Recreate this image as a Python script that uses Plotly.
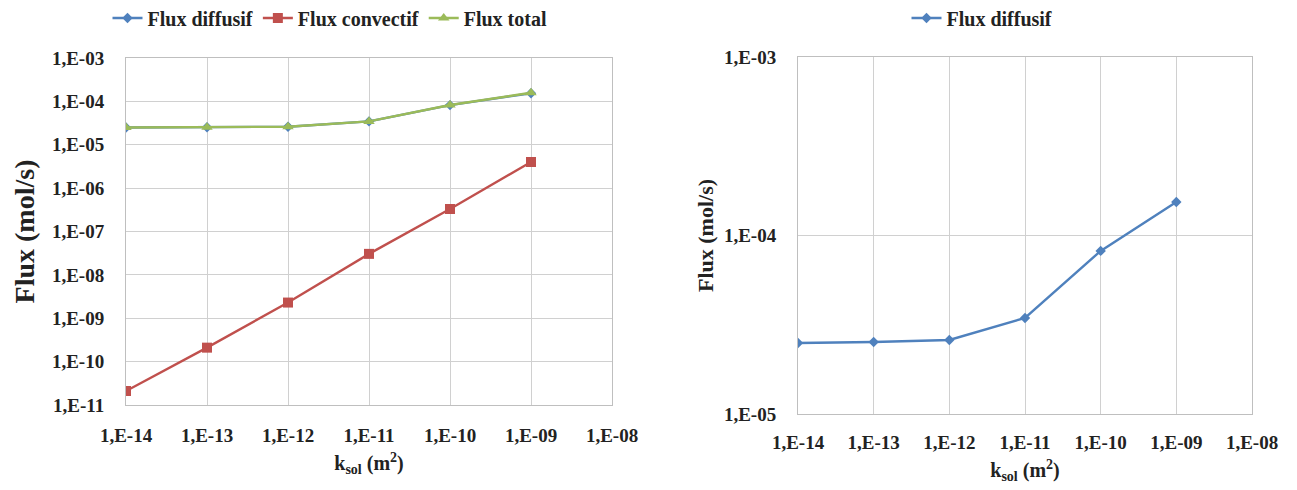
import plotly.graph_objects as go

k_sol = [1e-14, 1e-13, 1e-12, 1e-11, 1e-10, 1e-9]
flux_diffusif = [2.5e-5, 2.53e-5, 2.6e-5, 3.45e-5, 8.2e-5, 1.54e-4]
flux_convectif = [2.1e-11, 2.1e-10, 2.3e-9, 3.05e-8, 3.3e-7, 4.0e-6]
flux_total = [2.5e-5, 2.53e-5, 2.6e-5, 3.45e-5, 8.23e-5, 1.58e-4]

x_ticks = [1e-14, 1e-13, 1e-12, 1e-11, 1e-10, 1e-9, 1e-8]
x_labels = ["1,E-14", "1,E-13", "1,E-12", "1,E-11", "1,E-10", "1,E-09", "1,E-08"]
y_ticks_left = [1e-11, 1e-10, 1e-9, 1e-8, 1e-7, 1e-6, 1e-5, 1e-4, 1e-3]
y_labels_left = ["1,E-11", "1,E-10", "1,E-09", "1,E-08", "1,E-07", "1,E-06", "1,E-05", "1,E-04", "1,E-03"]
y_ticks_right = [1e-5, 1e-4, 1e-3]
y_labels_right = ["1,E-05", "1,E-04", "1,E-03"]

BLUE = "#4f81bd"
RED = "#c0504d"
GREEN = "#9bbb59"
GRID = "#d0d0d0"
FONT = "Liberation Serif, Times New Roman, serif"

W, H = 1297, 490
OFF = 8  # page body margin


def xd(a, b):
    return [(a - OFF) / W, (b - OFF) / W]


def yd(top, bottom):
    return [(H - (bottom - OFF)) / H, (H - (top - OFF)) / H]


fig = go.Figure()
fig.add_trace(go.Scatter(x=k_sol, y=flux_diffusif, name="Flux diffusif", mode="lines+markers",
                         line=dict(color=BLUE, width=2.4), marker=dict(symbol="diamond", size=8, color=BLUE),
                         xaxis="x", yaxis="y", legend="legend"))
fig.add_trace(go.Scatter(x=k_sol, y=flux_convectif, name="Flux convectif", mode="lines+markers",
                         line=dict(color=RED, width=2.4), marker=dict(symbol="square", size=10, color=RED),
                         xaxis="x", yaxis="y", legend="legend"))
fig.add_trace(go.Scatter(x=k_sol, y=flux_total, name="Flux total", mode="lines+markers",
                         line=dict(color=GREEN, width=2.4), marker=dict(symbol="triangle-up", size=10, color=GREEN),
                         xaxis="x", yaxis="y", legend="legend"))
fig.add_trace(go.Scatter(x=k_sol, y=flux_diffusif, name="Flux diffusif", mode="lines+markers",
                         line=dict(color=BLUE, width=2.4), marker=dict(symbol="diamond", size=8, color=BLUE),
                         xaxis="x2", yaxis="y2", legend="legend2"))

axis_common = dict(type="log", showgrid=True, gridcolor=GRID, gridwidth=1,
                   showline=True, linecolor="#bfbfbf", linewidth=1, mirror=True,
                   ticks="", zeroline=False, automargin=False,
                   tickfont=dict(family=FONT, size=19, color="#222", weight="bold"))

fig.update_layout(
    width=W, height=H,
    margin=dict(l=0, r=0, t=0, b=0, autoexpand=False),
    paper_bgcolor="white", plot_bgcolor="white",
    font=dict(family=FONT, color="#222"),
    xaxis=dict(axis_common, domain=xd(126, 612), anchor="y",
               range=[-14, -8], tickvals=x_ticks, ticktext=x_labels, ticklabelstandoff=13,
               title=dict(text="k<sub>sol</sub> (m<sup>2</sup>)", standoff=11,
                          font=dict(family=FONT, size=20, color="#222", weight="bold"))),
    yaxis=dict(axis_common, domain=yd(58, 405), anchor="x",
               range=[-11, -3], tickvals=y_ticks_left, ticktext=y_labels_left, ticklabelstandoff=17,
               title=dict(text="Flux (mol/s)", standoff=9,
                          font=dict(family=FONT, size=28, color="#222", weight="bold"))),
    xaxis2=dict(axis_common, domain=xd(798, 1252), anchor="y2",
                range=[-14, -8], tickvals=x_ticks, ticktext=x_labels, ticklabelstandoff=11,
                title=dict(text="k<sub>sol</sub> (m<sup>2</sup>)", standoff=11,
                           font=dict(family=FONT, size=20, color="#222", weight="bold"))),
    yaxis2=dict(axis_common, domain=yd(57, 414), anchor="x2",
                range=[-5, -3], tickvals=y_ticks_right, ticktext=y_labels_right, ticklabelstandoff=17,
                title=dict(text="Flux (mol/s)", standoff=4,
                           font=dict(family=FONT, size=22, color="#222", weight="bold"))),
    legend=dict(orientation="h", x=(330 - OFF) / W, xanchor="center", y=(H - (18 - OFF)) / H, yanchor="middle",
                font=dict(family=FONT, size=20, color="#222", weight="bold"), bgcolor="rgba(0,0,0,0)",
                itemwidth=30),
    legend2=dict(orientation="h", x=(982 - OFF) / W, xanchor="center", y=(H - (18 - OFF)) / H, yanchor="middle",
                 font=dict(family=FONT, size=20, color="#222", weight="bold"), bgcolor="rgba(0,0,0,0)",
                 itemwidth=30),
)

fig.write_html("out.html")
